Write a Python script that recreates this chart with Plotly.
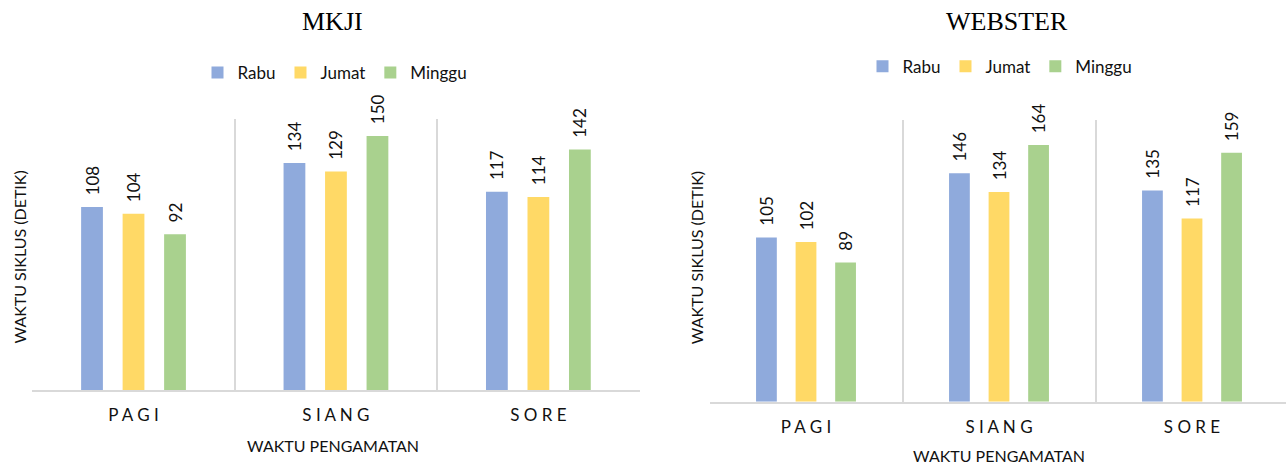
import plotly.graph_objects as go

categories = ["P A G I", "S I A N G", "S O R E"]
series_names = ["Rabu", "Jumat", "Minggu"]
mkji_rabu = [108, 134, 117]
mkji_jumat = [104, 129, 114]
mkji_minggu = [92, 150, 142]
webster_rabu = [105, 146, 135]
webster_jumat = [102, 134, 117]
webster_minggu = [89, 164, 159]

colors = ["#8FAADC", "#FFD966", "#A9D18E"]
W, H = 1286, 464
FONT = "Lato"
TXT = "#111111"

fig = go.Figure()

def add_bars(values_list, xa, ya, legend, showlegend=True):
    for name, vals, col in zip(series_names, values_list, colors):
        fig.add_trace(go.Bar(
            x=categories, y=vals, name=name, marker=dict(color=col, line=dict(width=0)),
            texttemplate="\u00a0\u00a0%{y}", textposition="outside", textangle=-90,
            textfont=dict(family=FONT, size=17, color=TXT),
            constraintext="none", cliponaxis=False,
            xaxis=xa, yaxis=ya, legend=legend, showlegend=showlegend,
        ))

add_bars([mkji_rabu, mkji_jumat, mkji_minggu], "x", "y", "legend")
add_bars([webster_rabu, webster_jumat, webster_minggu], "x2", "y2", "legend2")

def py(px):
    return (H - px) / H

def px_(x):
    return x / W

grid = "#d9d9d9"
xcommon = dict(type="category", tickson="boundaries", showgrid=True, gridcolor=grid, gridwidth=1.5,
               showline=True, linecolor=grid, linewidth=1.5, ticks="", zeroline=False,
               tickfont=dict(family=FONT, size=17, color=TXT), ticklabelstandoff=9, fixedrange=True)
ycommon = dict(showgrid=False, zeroline=False, showticklabels=False, ticks="", showline=False, fixedrange=True)

fig.update_layout(
    width=W, height=H, margin=dict(l=0, r=0, t=0, b=0),
    paper_bgcolor="white", plot_bgcolor="white",
    barmode="group", bargap=0.385, bargroupgap=0.475,
    xaxis=dict(domain=[px_(32.3), px_(639.6)], range=[-0.5, 2.5], anchor="y", **xcommon),
    yaxis=dict(domain=[py(390), py(119)], range=[0, 160], anchor="x", **ycommon),
    xaxis2=dict(domain=[px_(709.5), 1.0], range=[-0.5, -0.5 + (W - 709.5) / 193.0], anchor="y2", **xcommon),
    yaxis2=dict(domain=[py(401.7), py(120)], range=[0, 180], anchor="x2", **ycommon),
    legend=dict(orientation="h", x=px_(335), xanchor="center", y=py(73), yanchor="middle",
                font=dict(family=FONT, size=17, color=TXT), itemwidth=30, bgcolor="rgba(0,0,0,0)"),
    legend2=dict(orientation="h", x=px_(1000), xanchor="center", y=py(66.7), yanchor="middle",
                 font=dict(family=FONT, size=17, color=TXT), itemwidth=30, bgcolor="rgba(0,0,0,0)"),
    showlegend=True,
)

annots = [
    dict(text="MKJI", x=px_(332), y=py(21.5), font=dict(family="Liberation Serif", size=26, color="#000")),
    dict(text="WEBSTER", x=px_(1007), y=py(21.5), font=dict(family="Liberation Serif", size=26, color="#000")),
    dict(text="WAKTU PENGAMATAN", x=px_(333.3), y=py(445), font=dict(family=FONT, size=16, color=TXT)),
    dict(text="WAKTU PENGAMATAN", x=px_(998.5), y=py(455), font=dict(family=FONT, size=16, color=TXT)),
    dict(text="WAKTU SIKLUS (DETIK)", x=px_(19), y=py(257.5), textangle=-90, font=dict(family=FONT, size=16, color=TXT)),
    dict(text="WAKTU SIKLUS (DETIK)", x=px_(696.7), y=py(257.5), textangle=-90, font=dict(family=FONT, size=16, color=TXT)),
]
for a in annots:
    fig.add_annotation(xref="paper", yref="paper", showarrow=False, xanchor="center", yanchor="middle", **a)

fig.write_html("out.html")
